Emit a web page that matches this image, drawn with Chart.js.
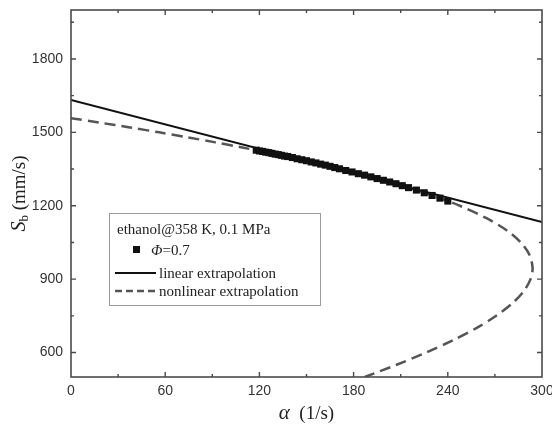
<!DOCTYPE html>
<html>
<head>
<meta charset="utf-8">
<script src="https://cdn.jsdelivr.net/npm/chart.js@4.4.0/dist/chart.umd.min.js"></script>
<style>
  html, body { margin: 0; padding: 0; background: #fff; }
  #wrap { width: 552px; height: 430px; }
</style>
</head>
<body>
<div id="wrap"><canvas id="chart" width="552" height="430"></canvas></div>
<script>
// measured points (phi = 0.7)
const dataAlpha = [118, 120, 122, 124, 126, 128, 130, 132, 134, 136, 138, 141, 144, 147, 150, 153, 156, 159, 162, 165, 168, 171, 175, 179, 183, 187, 191, 195, 199, 203, 207, 211, 215, 220, 225, 230, 235, 240];
const dataSb = [1427, 1424, 1422, 1419, 1417, 1414, 1411, 1409, 1406, 1403, 1401, 1397, 1392, 1388, 1384, 1379, 1375, 1370, 1366, 1361, 1356, 1351, 1344, 1338, 1331, 1325, 1318, 1311, 1304, 1297, 1290, 1282, 1274, 1264, 1253, 1242, 1231, 1219];

// linear extrapolation
const linearAlpha = [0, 300];
const linearSb = [1632, 1133];

// nonlinear extrapolation (bends back at ~294 1/s)
const nonlinAlpha = [0, 18, 37.6, 56.2, 74.1, 91.2, 107.5, 123.1, 138, 152.1, 172, 190.2, 206.9, 221.9, 235.5, 247.6, 264.4, 277.4, 286.5, 292, 294, 292.7, 288.3, 280.9, 270.8, 258.2, 243.2, 226.2, 207.4, 187.1];
const nonlinSb = [1558, 1540, 1520, 1500, 1480, 1460, 1440, 1420, 1400, 1380, 1350, 1320, 1290, 1260, 1230, 1200, 1150, 1100, 1050, 1000, 945, 900, 850, 800, 750, 700, 650, 600, 550, 500];

const xTicks = [0, 60, 120, 180, 240, 300];
const yTicks = [600, 900, 1200, 1500, 1800];
const legendTitle = 'ethanol@358 K, 0.1 MPa';
const seriesNames = ['=0.7', 'linear extrapolation', 'nonlinear extrapolation'];

const pts = (xs, ys) => xs.map((x, i) => ({ x: x, y: ys[i] }));

const SERIF = '"Liberation Serif", "DejaVu Serif", serif';
const SANS = '"Liberation Sans", Arial, sans-serif';

// frame + inward ticks on all four sides
const framePlugin = {
    id: 'frame',
    afterDatasetsDraw(chart) {
        const ctx = chart.ctx;
        const a = chart.chartArea;
        const xs = chart.scales.x, ys = chart.scales.y;
        ctx.save();
        ctx.strokeStyle = '#4a4a4a';
        ctx.lineWidth = 1.6;
        ctx.strokeRect(a.left, a.top, a.right - a.left, a.bottom - a.top);
        ctx.lineWidth = 1.4;
        ctx.beginPath();
        for (let v = 30; v < 300; v += 30) {
            const len = v % 60 === 0 ? 5 : 3;
            const px = xs.getPixelForValue(v);
            ctx.moveTo(px, a.bottom); ctx.lineTo(px, a.bottom - len);
            ctx.moveTo(px, a.top); ctx.lineTo(px, a.top + len);
        }
        for (let v = 600; v < 2000; v += 150) {
            const len = v % 300 === 0 ? 5 : 3;
            const py = ys.getPixelForValue(v);
            ctx.moveTo(a.left, py); ctx.lineTo(a.left + len, py);
            ctx.moveTo(a.right, py); ctx.lineTo(a.right - len, py);
        }
        ctx.stroke();
        ctx.restore();
    }
};

// axis titles with italic symbols and subscript
const titlePlugin = {
    id: 'titles',
    afterDraw(chart) {
        const ctx = chart.ctx;
        const a = chart.chartArea;
        ctx.save();
        ctx.fillStyle = '#222';
        ctx.textBaseline = 'alphabetic';
        ctx.textAlign = 'left';

        // x title
        ctx.font = 'italic 21px ' + SERIF;
        const wA = ctx.measureText('α').width;
        ctx.font = '19px ' + SERIF;
        const wR = ctx.measureText('  (1/s)').width;
        let x0 = (a.left + a.right) / 2 - (wA + wR) / 2;
        ctx.font = 'italic 21px ' + SERIF;
        ctx.fillText('α', x0, 419);
        ctx.font = '19px ' + SERIF;
        ctx.fillText('  (1/s)', x0 + wA, 419);

        // y title
        ctx.translate(25, (a.top + a.bottom) / 2);
        ctx.rotate(-Math.PI / 2);
        ctx.font = 'italic 20px ' + SERIF;
        const wS = ctx.measureText('S').width;
        ctx.font = '13px ' + SERIF;
        const wB = ctx.measureText('b').width;
        ctx.font = '19px ' + SERIF;
        const wU = ctx.measureText(' (mm/s)').width;
        let s0 = -(wS + wB + wU) / 2;
        ctx.font = 'italic 20px ' + SERIF;
        ctx.fillText('S', s0, 0);
        ctx.font = '13px ' + SERIF;
        ctx.fillText('b', s0 + wS, 3);
        ctx.font = '19px ' + SERIF;
        ctx.fillText(' (mm/s)', s0 + wS + wB, 0);
        ctx.restore();
    }
};

// boxed legend inside the plot
const legendPlugin = {
    id: 'boxLegend',
    afterDraw(chart) {
        const ctx = chart.ctx;
        const ds = chart.data.datasets;
        ctx.save();
        ctx.fillStyle = '#fff';
        ctx.fillRect(109.5, 213.5, 211, 92);
        ctx.strokeStyle = '#9a9a9a';
        ctx.lineWidth = 1;
        ctx.strokeRect(109.5, 213.5, 211, 92);

        ctx.fillStyle = '#222';
        ctx.textAlign = 'left';
        ctx.textBaseline = 'alphabetic';
        ctx.font = '15px ' + SERIF;
        ctx.fillText(legendTitle, 117, 234);

        // marker row
        ctx.fillStyle = ds[0].backgroundColor;
        ctx.fillRect(133, 246, 7, 7);
        ctx.fillStyle = '#222';
        ctx.font = 'italic 15px ' + SERIF;
        ctx.fillText('Φ', 151, 255);
        const wPhi = ctx.measureText('Φ').width;
        ctx.font = '15px ' + SERIF;
        ctx.fillText(seriesNames[0], 151 + wPhi, 255);

        // linear row
        ctx.strokeStyle = ds[1].borderColor;
        ctx.lineWidth = ds[1].borderWidth;
        ctx.beginPath(); ctx.moveTo(115, 273); ctx.lineTo(156, 273); ctx.stroke();
        ctx.fillText(seriesNames[1], 159, 278);

        // nonlinear row
        ctx.strokeStyle = ds[2].borderColor;
        ctx.lineWidth = ds[2].borderWidth;
        ctx.setLineDash([7, 4]);
        ctx.beginPath(); ctx.moveTo(115, 291); ctx.lineTo(158, 291); ctx.stroke();
        ctx.setLineDash([]);
        ctx.fillText(seriesNames[2], 159, 296);
        ctx.restore();
    }
};

new Chart(document.getElementById('chart'), {
    type: 'scatter',
    data: {
        datasets: [
            { label: 'phi=0.7', data: pts(dataAlpha, dataSb), pointStyle: 'rect', pointRadius: 5, backgroundColor: '#111', borderWidth: 0, showLine: false },
            { label: 'linear extrapolation', data: pts(linearAlpha, linearSb), showLine: true, borderColor: '#111', borderWidth: 2, pointRadius: 0 },
            { label: 'nonlinear extrapolation', data: pts(nonlinAlpha, nonlinSb), showLine: true, borderColor: '#555', borderWidth: 2.5, borderDash: [11, 6], pointRadius: 0, tension: 0.3 }
        ]
    },
    options: {
        responsive: false,
        animation: false,
        devicePixelRatio: 1,
        layout: { padding: { left: 0, right: 10, top: 10, bottom: 0 } },
        plugins: { legend: { display: false }, tooltip: { enabled: false } },
        scales: {
            x: {
                type: 'linear', min: 0, max: 300,
                afterBuildTicks: s => { s.ticks = xTicks.map(v => ({ value: v })); },
                afterFit: s => { s.height = 53; s.paddingLeft = 0; s.paddingRight = 0; },
                grid: { display: false, drawTicks: false },
                border: { display: false },
                ticks: { color: '#333', font: { family: SANS, size: 14 }, padding: 6, maxRotation: 0, callback: v => String(v) }
            },
            y: {
                type: 'linear', min: 500, max: 2000,
                afterBuildTicks: s => { s.ticks = yTicks.map(v => ({ value: v })); },
                afterFit: s => { s.width = 71; s.paddingTop = 0; s.paddingBottom = 0; },
                grid: { display: false, drawTicks: false },
                border: { display: false },
                ticks: { color: '#333', font: { family: SANS, size: 14 }, padding: 8, callback: v => String(v) }
            }
        }
    },
    plugins: [framePlugin, titlePlugin, legendPlugin]
});
</script>
</body>
</html>
